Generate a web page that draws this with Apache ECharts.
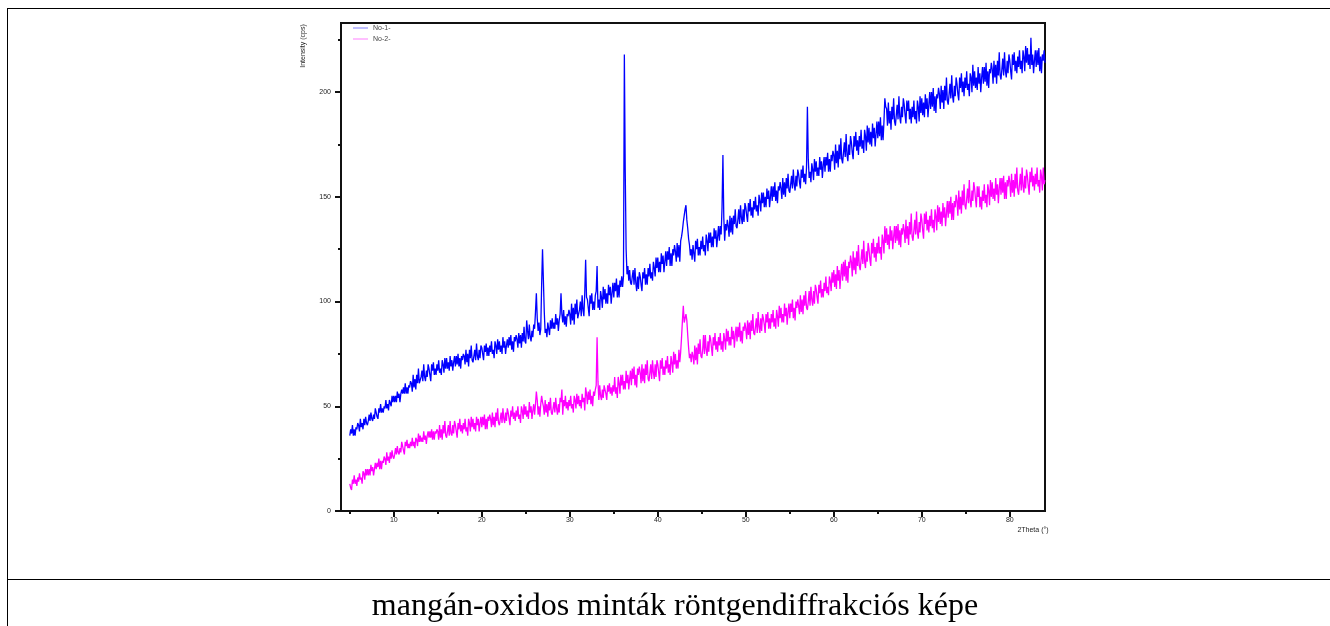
<!DOCTYPE html>
<html>
<head>
<meta charset="utf-8">
<title>mangán-oxidos minták röntgendiffrakciós képe</title>
<script src="https://cdn.jsdelivr.net/npm/echarts@6/dist/echarts.min.js"></script>
<style>
  html, body { margin: 0; padding: 0; background: #fff; }
  #page { position: relative; width: 1330px; height: 626px; overflow: hidden; }
  #chart { position: absolute; left: 0; top: 0; width: 1330px; height: 626px; }
  .rule-h { position: absolute; left: 7px; right: 0; height: 0; border-top: 1.5px solid #000; }
  .rule-v { position: absolute; left: 7px; top: 8px; bottom: 0; width: 0; border-left: 1.5px solid #000; }
  #caption { position: absolute; left: 20px; right: 0; top: 586px; text-align: center;
    font-family: "Liberation Serif", "Times New Roman", serif; font-size: 32px; color: #000; white-space: nowrap; }
</style>
</head>
<body>
<div id="page">
  <div class="rule-h" style="top: 8px"></div>
  <div class="rule-h" style="top: 579px"></div>
  <div class="rule-v"></div>
  <div id="chart"></div>
  <div id="caption">mangán-oxidos minták röntgendiffrakciós képe</div>
</div>
<script>
// scan grid: 2Theta 5.0 .. 84.0, step 0.1 (one line below = one degree)
const thetaStart = 5
const thetaStep = 0.1

// No-1- intensity (cps)
const no1 = [
  36, 39, 37, 41, 36, 39, 36, 40, 39, 42,
  41, 38, 44, 40, 42, 39, 44, 41, 45, 42,
  41, 43, 46, 43, 47, 44, 43, 46, 44, 49,
  47, 45, 44, 49, 47, 51, 47, 49, 47, 50,
  49, 53, 49, 51, 48, 53, 53, 50, 55, 52,
  55, 52, 55, 52, 57, 54, 56, 52, 56, 58,
  56, 59, 56, 61, 56, 59, 56, 60, 59, 62,
  61, 57, 65, 59, 63, 58, 65, 61, 68, 61,
  61, 64, 67, 62, 70, 64, 62, 67, 64, 70,
  68, 65, 62, 70, 67, 71, 65, 68, 65, 70,
  67, 72, 66, 68, 65, 72, 70, 66, 73, 68,
  73, 68, 71, 67, 74, 69, 72, 67, 71, 74,
  69, 74, 70, 75, 69, 73, 68, 74, 72, 75,
  74, 70, 77, 71, 75, 69, 77, 73, 79, 72,
  71, 74, 77, 72, 80, 74, 72, 77, 73, 79,
  78, 75, 72, 79, 76, 80, 74, 78, 74, 79,
  76, 81, 75, 77, 73, 81, 79, 75, 82, 77,
  81, 76, 79, 75, 83, 78, 81, 75, 79, 82,
  78, 83, 79, 84, 77, 81, 76, 83, 81, 84,
  82, 78, 85, 80, 84, 78, 85, 81, 88, 81,
  80, 91, 86, 82, 89, 83, 81, 86, 83, 89,
  87, 95, 104, 92, 86, 90, 84, 87, 108, 125,
  110, 95, 85, 87, 83, 90, 87, 84, 91, 87,
  92, 87, 90, 87, 94, 89, 92, 86, 91, 94,
  104, 94, 90, 96, 89, 93, 88, 94, 93, 96,
  94, 89, 99, 91, 97, 89, 99, 94, 101, 92,
  92, 96, 100, 93, 103, 96, 93, 104, 120, 102,
  101, 97, 93, 103, 99, 104, 96, 100, 96, 103,
  105, 117, 97, 101, 96, 105, 102, 97, 107, 101,
  106, 99, 104, 99, 108, 103, 107, 99, 104, 109,
  102, 109, 105, 111, 102, 108, 102, 110, 107, 112,
  107, 112, 218, 162, 125, 113, 117, 110, 115, 109,
  108, 112, 115, 108, 116, 109, 105, 112, 106, 114,
  112, 108, 105, 114, 111, 116, 108, 113, 108, 116,
  112, 118, 111, 114, 110, 119, 116, 112, 121, 116,
  121, 114, 119, 114, 123, 118, 122, 114, 119, 124,
  117, 124, 120, 126, 117, 123, 117, 125, 122, 127,
  124, 119, 128, 121, 127, 119, 129, 131, 134, 138,
  141, 144, 146, 139, 135, 130, 127, 122, 125, 120,
  127, 123, 119, 129, 125, 130, 122, 126, 122, 129,
  125, 131, 124, 127, 122, 132, 129, 124, 133, 128,
  133, 126, 131, 126, 135, 130, 134, 126, 131, 136,
  129, 136, 132, 145, 170, 140, 129, 137, 134, 139,
  136, 131, 141, 133, 140, 132, 141, 137, 144, 136,
  135, 139, 144, 137, 146, 140, 137, 144, 138, 147,
  145, 141, 138, 147, 143, 149, 141, 145, 140, 148,
  144, 150, 143, 146, 141, 151, 148, 143, 152, 147,
  152, 145, 150, 145, 154, 149, 153, 145, 150, 155,
  148, 155, 150, 157, 148, 153, 147, 155, 153, 157,
  154, 149, 159, 151, 157, 150, 159, 154, 161, 153,
  152, 156, 160, 154, 163, 156, 153, 160, 155, 163,
  161, 157, 154, 163, 159, 165, 157, 161, 156, 164,
  193, 168, 159, 162, 157, 166, 163, 158, 168, 162,
  167, 160, 164, 160, 169, 163, 167, 159, 165, 169,
  162, 169, 165, 171, 162, 168, 162, 170, 167, 172,
  170, 163, 175, 166, 172, 164, 175, 168, 178, 168,
  166, 171, 176, 169, 180, 170, 167, 175, 170, 179,
  176, 171, 168, 179, 174, 181, 172, 177, 170, 179,
  174, 182, 173, 177, 171, 182, 179, 172, 184, 176,
  183, 175, 181, 174, 185, 178, 183, 174, 180, 186,
  178, 186, 179, 188, 177, 184, 177, 186, 197, 193,
  192, 184, 195, 185, 191, 182, 193, 187, 197, 186,
  184, 189, 194, 187, 198, 188, 185, 193, 188, 197,
  194, 189, 185, 196, 191, 196, 187, 192, 185, 193,
  188, 196, 187, 191, 185, 196, 193, 186, 198, 190,
  197, 189, 195, 188, 199, 192, 197, 188, 194, 200,
  192, 200, 193, 202, 191, 198, 190, 199, 197, 202,
  199, 192, 203, 195, 201, 192, 203, 196, 207, 196,
  194, 199, 204, 197, 208, 198, 195, 203, 198, 207,
  204, 199, 196, 207, 202, 209, 200, 205, 198, 207,
  202, 210, 201, 204, 198, 209, 207, 200, 213, 203,
  210, 202, 207, 201, 212, 204, 209, 200, 207, 212,
  204, 212, 205, 214, 203, 210, 202, 211, 209, 214,
  211, 204, 215, 207, 213, 204, 215, 208, 219, 208,
  206, 211, 216, 208, 219, 210, 207, 215, 209, 218,
  215, 210, 206, 218, 213, 219, 210, 215, 209, 217,
  212, 220, 211, 215, 209, 220, 217, 210, 222, 214,
  221, 213, 218, 211, 226, 213, 218, 209, 215, 220,
  212, 220, 213, 221, 210, 217, 209, 218, 215, 220,
  214
]

// No-2- intensity (cps)
const no2 = [
  13, 11, 10, 15, 13, 17, 13, 15, 12, 16,
  14, 18, 15, 16, 13, 19, 18, 15, 20, 17,
  20, 17, 20, 17, 22, 19, 21, 17, 20, 23,
  20, 23, 21, 25, 20, 24, 20, 24, 23, 26,
  25, 22, 28, 24, 26, 23, 28, 25, 29, 26,
  25, 27, 30, 27, 31, 28, 27, 30, 28, 33,
  31, 29, 27, 33, 31, 34, 30, 32, 30, 33,
  31, 35, 31, 33, 30, 35, 34, 31, 37, 33,
  36, 33, 35, 33, 38, 34, 36, 32, 36, 38,
  35, 38, 35, 39, 34, 38, 34, 38, 37, 39,
  38, 34, 41, 35, 39, 34, 41, 37, 43, 36,
  35, 38, 41, 36, 43, 37, 36, 41, 37, 43,
  41, 38, 35, 42, 39, 44, 38, 41, 37, 42,
  39, 44, 38, 40, 36, 44, 42, 38, 45, 40,
  44, 39, 42, 38, 45, 41, 44, 38, 42, 45,
  40, 45, 41, 46, 39, 44, 39, 45, 43, 46,
  44, 40, 47, 41, 45, 40, 47, 43, 49, 42,
  41, 44, 47, 42, 49, 44, 42, 47, 43, 49,
  47, 44, 41, 48, 45, 50, 44, 47, 43, 48,
  45, 50, 44, 46, 42, 50, 48, 44, 51, 46,
  50, 45, 48, 44, 52, 47, 50, 44, 48, 51,
  46, 51, 57, 53, 46, 50, 45, 51, 55, 52,
  50, 46, 53, 47, 51, 45, 52, 48, 54, 47,
  46, 49, 52, 47, 54, 49, 46, 51, 47, 54,
  52, 58, 46, 53, 50, 55, 49, 52, 48, 53,
  50, 55, 49, 51, 47, 55, 53, 49, 56, 51,
  55, 50, 53, 49, 56, 52, 54, 48, 59, 56,
  51, 57, 53, 58, 51, 55, 50, 57, 55, 58,
  60, 83, 62, 53, 60, 55, 53, 58, 54, 60,
  58, 56, 53, 60, 57, 61, 56, 59, 55, 60,
  57, 64, 56, 59, 54, 64, 61, 56, 65, 60,
  65, 58, 62, 58, 67, 61, 65, 58, 63, 67,
  60, 68, 63, 69, 60, 65, 59, 68, 65, 69,
  66, 61, 70, 62, 68, 61, 70, 65, 72, 63,
  62, 66, 70, 63, 72, 66, 63, 70, 64, 72,
  70, 66, 62, 72, 68, 73, 65, 69, 65, 72,
  68, 74, 66, 70, 65, 74, 71, 66, 76, 70,
  75, 68, 72, 68, 77, 71, 76, 83, 91, 98,
  90, 92, 94, 91, 84, 78, 73, 75, 71, 76,
  74, 70, 79, 72, 78, 70, 80, 75, 82, 74,
  73, 77, 84, 75, 84, 77, 74, 81, 76, 84,
  82, 78, 74, 83, 79, 85, 77, 81, 76, 83,
  79, 85, 77, 81, 76, 85, 82, 77, 87, 81,
  86, 79, 83, 79, 88, 82, 86, 78, 84, 88,
  81, 88, 83, 90, 81, 86, 80, 88, 86, 90,
  87, 82, 91, 84, 90, 82, 91, 86, 94, 85,
  84, 88, 92, 85, 95, 88, 85, 92, 86, 94,
  92, 89, 85, 94, 90, 95, 87, 92, 87, 94,
  90, 96, 88, 92, 87, 96, 93, 88, 98, 92,
  97, 90, 94, 90, 99, 93, 97, 89, 95, 99,
  92, 99, 95, 101, 92, 97, 91, 100, 97, 101,
  98, 94, 103, 95, 101, 94, 103, 98, 105, 97,
  96, 100, 105, 98, 107, 101, 98, 105, 99, 108,
  106, 102, 99, 108, 104, 110, 102, 106, 102, 109,
  105, 112, 104, 107, 103, 112, 110, 105, 114, 109,
  115, 107, 113, 106, 117, 110, 115, 106, 113, 118,
  110, 119, 112, 120, 110, 117, 109, 119, 116, 122,
  119, 112, 124, 115, 121, 113, 124, 117, 127, 117,
  115, 120, 125, 118, 129, 119, 116, 124, 119, 128,
  125, 120, 117, 128, 123, 130, 121, 126, 119, 128,
  123, 131, 123, 126, 120, 132, 129, 123, 136, 128,
  135, 127, 132, 125, 136, 129, 134, 125, 131, 136,
  128, 136, 129, 137, 127, 134, 126, 135, 132, 137,
  134, 128, 139, 130, 136, 127, 138, 132, 142, 131,
  129, 134, 139, 132, 143, 133, 130, 138, 133, 142,
  139, 134, 130, 142, 137, 143, 134, 139, 133, 141,
  136, 144, 135, 139, 133, 144, 141, 134, 146, 138,
  145, 137, 143, 136, 147, 140, 145, 136, 142, 148,
  140, 148, 142, 150, 139, 147, 139, 148, 145, 151,
  148, 141, 153, 144, 150, 142, 153, 146, 156, 146,
  144, 149, 154, 147, 158, 148, 145, 153, 148, 157,
  154, 149, 145, 155, 150, 155, 145, 150, 144, 153,
  148, 156, 147, 151, 145, 156, 153, 146, 158, 150,
  157, 149, 154, 148, 159, 151, 156, 147, 154, 159,
  151, 159, 152, 160, 149, 157, 149, 158, 155, 160,
  157, 150, 161, 152, 158, 150, 161, 154, 164, 153,
  151, 156, 161, 153, 164, 155, 152, 160, 154, 163,
  160, 155, 151, 162, 157, 164, 155, 160, 153, 161,
  156, 164, 155, 158, 152, 163, 160, 153, 164, 156,
  158
]

const xTicks = [10, 20, 30, 40, 50, 60, 70, 80]
const xMinorTicks = [5, 15, 25, 35, 45, 55, 65, 75]
const yTicks = [0, 50, 100, 150, 200]
const yMinorTicks = [25, 75, 125, 175, 225]

const font = '"Liberation Sans", Arial, sans-serif'
const axisColor = '#111'

function toPoints(values) {
  return values.map((v, i) => [+(thetaStart + i * thetaStep).toFixed(1), v])
}

// major ticks + labels on one axis, short minor ticks on a twin axis
function axisPair(dir, min, max, major, minor, labelMargin) {
  const common = { type: 'value', min, max, position: dir === 'x' ? 'bottom' : 'left', splitLine: { show: false } }
  return [
    {
      ...common,
      axisLine: { onZero: false, lineStyle: { color: axisColor, width: 2 } },
      axisTick: { customValues: major, length: 6, lineStyle: { color: axisColor, width: 2 } },
      axisLabel: { customValues: major, margin: labelMargin, fontSize: 7, color: '#222', fontFamily: font }
    },
    {
      ...common,
      axisLine: { show: false, onZero: false },
      axisTick: { customValues: minor, length: 3, lineStyle: { color: axisColor, width: 2 } },
      axisLabel: { show: false }
    }
  ]
}

const chart = echarts.init(document.getElementById('chart'))
chart.setOption({
  animation: false,
  grid: { left: 341, top: 23, right: 285, bottom: 115, show: true, borderColor: axisColor, borderWidth: 2 },
  legend: {
    orient: 'vertical', left: 353, top: 24, padding: 0,
    icon: 'rect', itemWidth: 15, itemHeight: 1, itemGap: 3,
    itemStyle: { opacity: 0.5 },
    textStyle: { fontSize: 7, lineHeight: 8, color: '#444', fontFamily: font }
  },
  xAxis: axisPair('x', 4, 84, xTicks, xMinorTicks, 6),
  yAxis: axisPair('y', 0, 233, yTicks, yMinorTicks, 10),
  graphic: [
    { type: 'text', x: 303, y: 46, rotation: Math.PI / 2,
      style: { text: 'Intensity (cps)', fontSize: 7, fill: '#222', fontFamily: font, align: 'center', verticalAlign: 'middle' } },
    { type: 'text', x: 1033, y: 530,
      style: { text: '2Theta (°)', fontSize: 7, fill: '#222', fontFamily: font, align: 'center', verticalAlign: 'middle' } }
  ],
  series: [
    { name: 'No-1-', type: 'line', data: toPoints(no1), symbol: 'none', silent: true,
      lineStyle: { width: 1.3, color: '#0000ff' }, itemStyle: { color: '#0000ff' } },
    { name: 'No-2-', type: 'line', data: toPoints(no2), symbol: 'none', silent: true,
      lineStyle: { width: 1.3, color: '#ff00ff' }, itemStyle: { color: '#ff00ff' } }
  ]
})
</script>
</body>
</html>
